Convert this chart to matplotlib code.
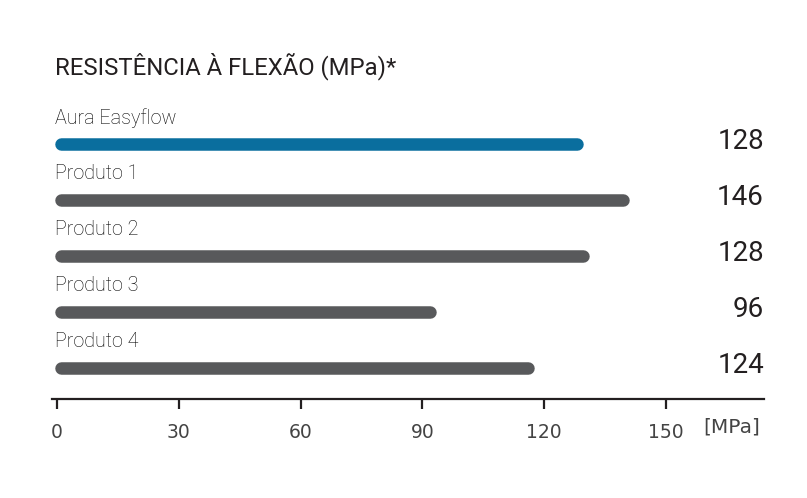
import numpy as np
import matplotlib
matplotlib.use("Agg")
import matplotlib.pyplot as plt

# data
products = ["Aura Easyflow", "Produto 1", "Produto 2", "Produto 3", "Produto 4"]
bar_len = [129.5, 141, 131, 93.3, 117.5]      # bar lengths as drawn (MPa)
value_labels = ["128", "146", "128", "96", "124"]
ticks = [0, 30, 60, 90, 120, 150]

BLUE = "#0a6e9e"
GREY = "#58595b"
TXT = "#231f20"
W, H, DPI = 807, 498, 100

plt.rcParams['font.family'] = ['Roboto', 'DejaVu Sans']

fig = plt.figure(figsize=(W / DPI, H / DPI), dpi=DPI)
# axes placed in pixel terms: x 57..764, y 88..399 (from top)
ax = fig.add_axes([57 / W, 1 - 399 / H, (764 - 57) / W, (399 - 88) / H])
px_per_unit = 4.06
ax.set_xlim(0, (764 - 57) / px_per_unit)
ax.set_ylim(4.55, -1)

lw_px = 12.5
cap = (lw_px / 2) / px_per_unit   # round cap length in data units
for i, (name, v) in enumerate(zip(products, bar_len)):
    c = BLUE if i == 0 else GREY
    ax.plot([-0.5 + cap, v - cap], [i, i], color=c, lw=lw_px * 72 / DPI,
            solid_capstyle='round', clip_on=False)
    ax.text(-0.5, i - 0.47, name, fontsize=14.2, color="#000000",
            fontweight='light', ha='left', va='center')
    ax.text(1.0, i - 0.04, value_labels[i], transform=ax.get_yaxis_transform(),
            fontsize=20, color=TXT, ha='right', va='center')

for s in ['top', 'right', 'left']:
    ax.spines[s].set_visible(False)
ax.spines['bottom'].set_color(TXT)
ax.spines['bottom'].set_linewidth(1.6)
ax.spines['bottom'].set_bounds(-1.2, (764 - 57) / px_per_unit)
ax.set_yticks([])
ax.set_xticks(ticks)
ax.set_xticklabels([str(t) for t in ticks], family='DejaVu Sans')
ax.tick_params(axis='x', length=7, width=1.6, color=TXT, pad=10,
               labelsize=13.5, labelcolor="#444444")

fig.text(703 / W, 1 - 427 / H, "[MPa]", fontsize=14.5, color="#444444",
         family='DejaVu Sans', ha='left', va='center')
fig.text(55 / W, 1 - 66 / H, "RESISTÊNCIA À FLEXÃO (MPa)*", fontsize=17.2,
         color=TXT, ha='left', va='center')

fig.savefig("out.png", dpi=DPI)
